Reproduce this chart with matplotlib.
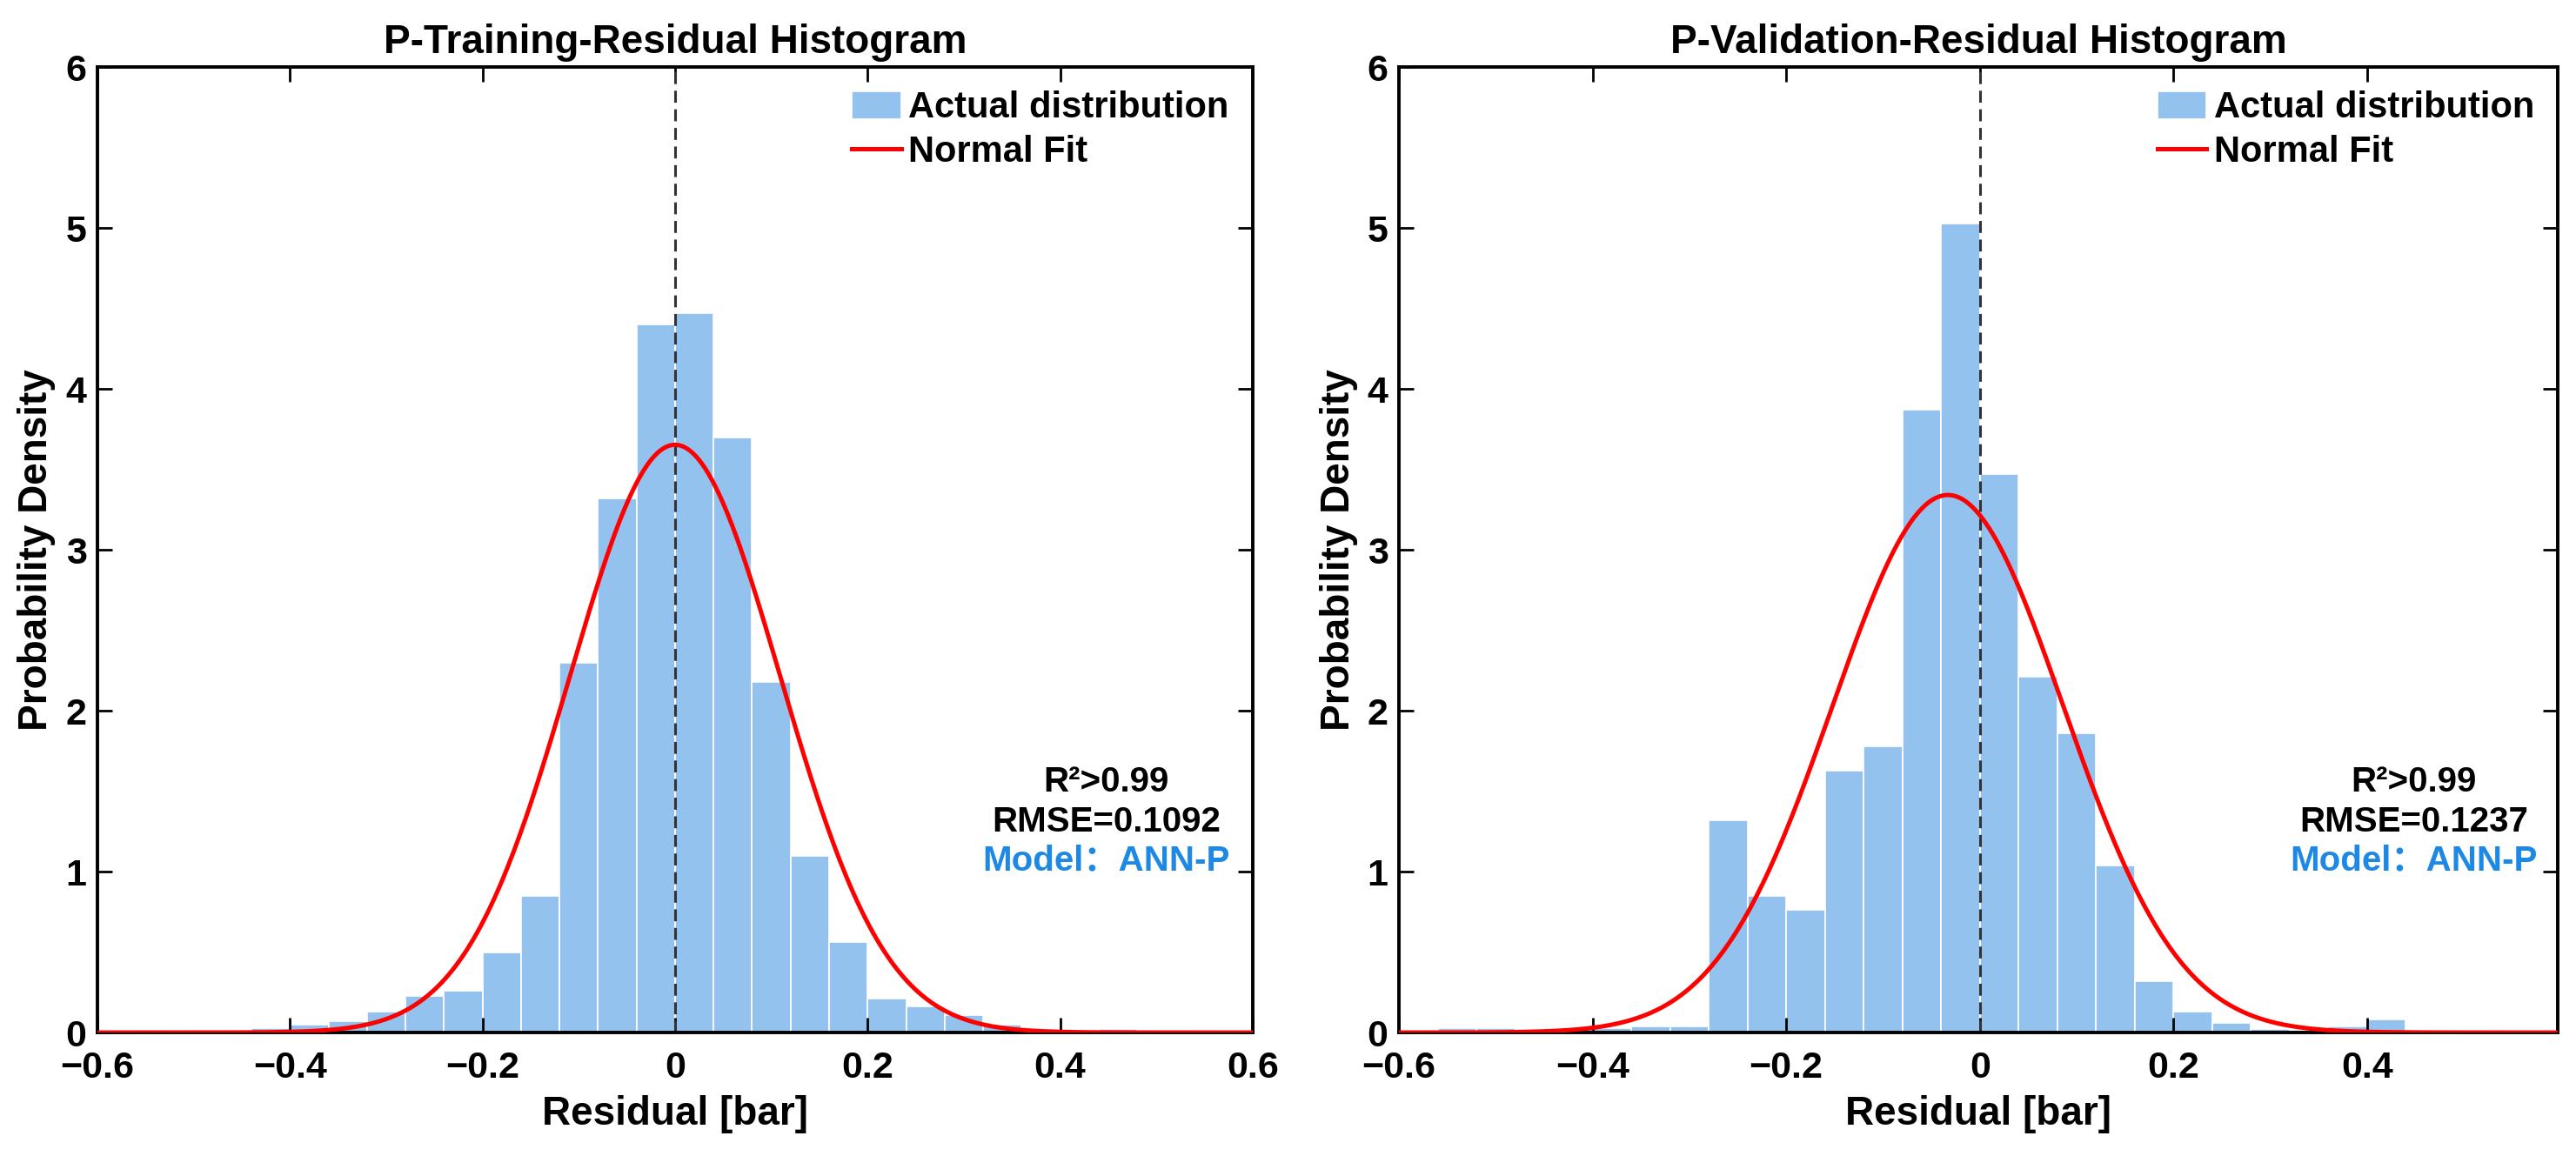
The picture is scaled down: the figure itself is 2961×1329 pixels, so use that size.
import numpy as np
import matplotlib
matplotlib.use("Agg")
import matplotlib.pyplot as plt
from matplotlib.ticker import FuncFormatter

plt.rcParams['font.family'] = ['Liberation Sans', 'Noto Sans CJK SC', 'DejaVu Sans']
plt.rcParams['font.weight'] = 'bold'

BIN_W = 0.04

# training residual histogram (left edges of the bins and density)
train_edges = [-0.52, -0.48, -0.44, -0.40, -0.36, -0.32, -0.28, -0.24, -0.20, -0.16,
               -0.12, -0.08, -0.04, 0.00, 0.04, 0.08, 0.12, 0.16, 0.20, 0.24,
               0.28, 0.32, 0.36, 0.40, 0.44, 0.48]
train_density = [0.01, 0.01, 0.03, 0.05, 0.07, 0.13, 0.23, 0.26, 0.50, 0.85,
                 2.30, 3.32, 4.40, 4.47, 3.70, 2.18, 1.10, 0.56, 0.21, 0.16,
                 0.11, 0.05, 0.02, 0.01, 0.02, 0.01]
train_mu, train_sigma = 0.0, 0.1092

# validation residual histogram
val_edges = [-0.56, -0.52, -0.48, -0.44, -0.40, -0.36, -0.32, -0.28, -0.24, -0.20,
             -0.16, -0.12, -0.08, -0.04, 0.00, 0.04, 0.08, 0.12, 0.16, 0.20,
             0.24, 0.28, 0.32, 0.36, 0.40, 0.44]
val_density = [0.03, 0.03, 0.02, 0.02, 0.03, 0.04, 0.04, 1.32, 0.85, 0.76,
               1.63, 1.78, 3.87, 5.03, 3.47, 2.21, 1.86, 1.04, 0.32, 0.13,
               0.06, 0.02, 0.01, 0.04, 0.08, 0.01]
val_mu, val_sigma = -0.033, 0.1194

titles = ['P-Training-Residual Histogram', 'P-Validation-Residual Histogram']
rmse_vals = ['0.1092', '0.1237']
xlims = [(-0.6, 0.6), (-0.6, 0.597)]

BAR_COLOR = '#94C2EE'
MODEL_COLOR = '#1E88E5'


def fmt(v, pos):
    s = '%g' % round(v, 2)
    return s.replace('-', '\u2212')


fig = plt.figure(figsize=(29.61, 13.29), dpi=100)
axes = [fig.add_axes([0.0378, 0.1068, 0.4485, 0.835]),
        fig.add_axes([0.5431, 0.1068, 0.4498, 0.835])]

datasets = [(train_edges, train_density, train_mu, train_sigma),
            (val_edges, val_density, val_mu, val_sigma)]

for i, ax in enumerate(axes):
    edges, dens, mu, sigma = datasets[i]
    bars = ax.bar(edges, dens, width=BIN_W, align='edge', color=BAR_COLOR,
                  edgecolor='white', linewidth=1.2, label='Actual distribution', zorder=1)
    xs = np.linspace(xlims[i][0], xlims[i][1], 600)
    pdf = np.exp(-0.5 * ((xs - mu) / sigma) ** 2) / (sigma * np.sqrt(2 * np.pi))
    line, = ax.plot(xs, pdf, color='red', lw=3.6, label='Normal Fit', zorder=3)
    ax.axvline(0, color='#333333', lw=2.2, ls=(0, (4.5, 2.5)), zorder=2)

    ax.set_xlim(*xlims[i])
    ax.set_ylim(0, 6)
    ax.set_xticks([-0.6, -0.4, -0.2, 0, 0.2, 0.4, 0.6] if i == 0 else [-0.6, -0.4, -0.2, 0, 0.2, 0.4])
    ax.set_yticks(range(0, 7))
    ax.xaxis.set_major_formatter(FuncFormatter(fmt))
    ax.tick_params(direction='in', length=12, width=2, top=True, right=True,
                   labelsize=31)
    ax.tick_params(axis='x', pad=15)
    ax.tick_params(axis='y', pad=9)
    for sp in ax.spines.values():
        sp.set_linewidth(2.8)

    ax.set_title(titles[i], fontsize=33, fontweight='bold', pad=12)
    ax.set_xlabel('Residual [bar]', fontsize=33, fontweight='bold', labelpad=8)
    ax.set_ylabel('Probability Density', fontsize=33, fontweight='bold', labelpad=8)

    ax.legend([bars, line], ['Actual distribution', 'Normal Fit'],
              loc='upper right', frameon=False, fontsize=30, handlelength=1.36,
              handleheight=0.8, handletextpad=0.2, labelspacing=0.26,
              borderpad=0.25, borderaxespad=0.4)

    ax.text(0.448, 1.56, 'R\u00b2>0.99', fontsize=29, ha='center', va='center')
    ax.text(0.448, 1.31, 'RMSE=' + rmse_vals[i], fontsize=29, ha='center', va='center')
    ax.text(0.448, 1.07, 'Model\uff1aANN-P', fontsize=29, ha='center', va='center',
            color=MODEL_COLOR)

fig.savefig('out.png', dpi=100)
